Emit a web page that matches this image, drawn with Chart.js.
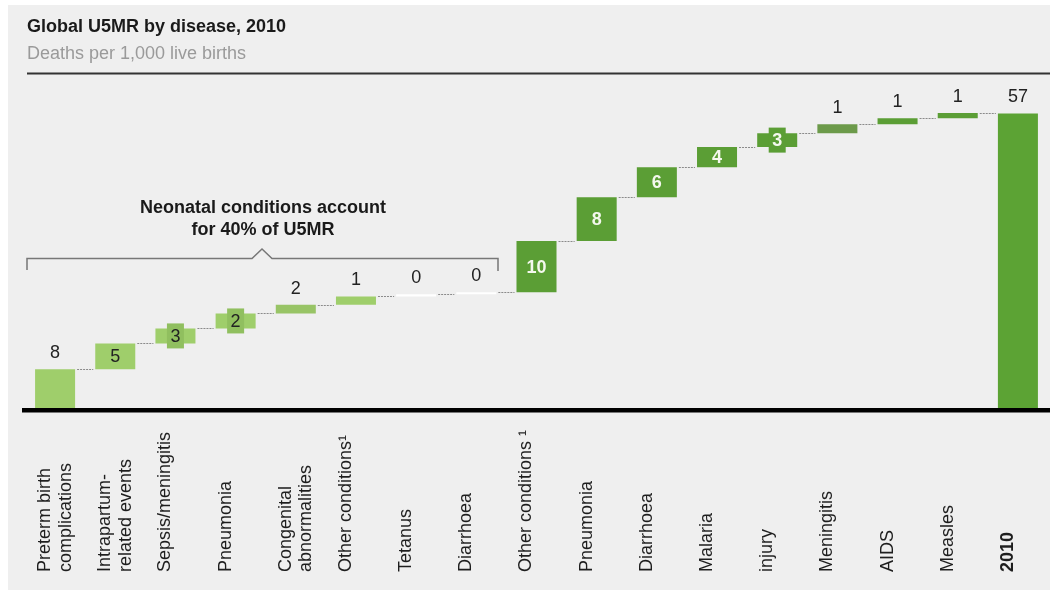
<!DOCTYPE html>
<html lang="en">
  <head>
    <meta charset="UTF-8" />
    <title>Global U5MR by disease, 2010</title>
  </head>
  <style>
    * {
      margin: 0;
      padding: 0;
    }
    body {
      width: 1050px;
      height: 590px;
      background: #ffffff;
      position: relative;
      overflow: hidden;
    }
    .chartCard {
      position: absolute;
      left: 8px;
      top: 5px;
      right: 0;
      bottom: 0;
      background: #efefef;
    }
    #myChart {
      position: absolute;
      left: 0;
      top: 0;
    }
  </style>
  <body>
    <div class="chartCard"></div>
    <canvas id="myChart" width="1050" height="590"></canvas>

    <script src="https://cdn.jsdelivr.net/npm/chart.js"></script>

    <script>
      // data block
      const categories = [
        ["Preterm birth", "complications"],
        ["Intrapartum-", "related events"],
        ["Sepsis/meningitis"],
        ["Pneumonia"],
        ["Congenital", "abnormalities"],
        ["Other conditions¹"],
        ["Tetanus"],
        ["Diarrhoea"],
        ["Other conditions ¹"],
        ["Pneumonia"],
        ["Diarrhoea"],
        ["Malaria"],
        ["injury"],
        ["Meningitis"],
        ["AIDS"],
        ["Measles"],
        ["2010"]
      ];
      const values = [7.5, 5.0, 2.9, 2.9, 1.7, 1.6, 0.4, 0.4, 9.9, 8.5, 5.8, 3.9, 2.7, 1.7, 1.2, 1.0];
      const totalValue = 57;
      const valueLabels = ["8", "5", "3", "2", "2", "1", "0", "0", "10", "8", "6", "4", "3", "1", "1", "1", "57"];

      // styles
      const light = "#9fce6b";
      const dark = "#5b9e35";
      const barColors = [
        light, light, light, light, "#98c466", light, "#ffffff", "#ffffff",
        dark, dark, dark, dark, dark, "#6c9a4a", dark, dark, "#5ca334"
      ];
      const placement = [
        "above", "in", "box", "box", "above", "above", "above", "above",
        "in", "in", "in", "in", "box", "above", "above", "above", "above"
      ];
      const FONT = '"Liberation Sans", Arial, sans-serif';

      // floating bars: each step starts where the previous one ended
      let cum = 0;
      const ranges = values.map((v) => {
        const r = [cum, cum + v];
        cum += v;
        return r;
      });
      ranges.push([0, totalValue]);

      const data = {
        labels: categories.map((c) => c.join(" ")),
        datasets: [
          {
            data: ranges,
            backgroundColor: barColors,
            borderWidth: 0,
            barPercentage: 0.665,
            categoryPercentage: 1
          }
        ]
      };

      const decorations = {
        id: "decorations",
        afterDatasetsDraw(chart) {
          const ctx = chart.ctx;
          const meta = chart.getDatasetMeta(0);
          const y = chart.scales.y;
          ctx.save();

          // title block
          ctx.fillStyle = "#1a1a1a";
          ctx.font = "bold 18px " + FONT;
          ctx.textAlign = "left";
          ctx.textBaseline = "alphabetic";
          ctx.fillText("Global U5MR by disease, 2010", 27, 32);
          ctx.fillStyle = "#9a9a9a";
          ctx.font = "18px " + FONT;
          ctx.fillText("Deaths per 1,000 live births", 27, 59);
          ctx.fillStyle = "#333";
          ctx.fillRect(27, 72.5, 1023, 2);

          // connectors
          ctx.strokeStyle = "#8a8a8a";
          ctx.lineWidth = 1;
          ctx.setLineDash([2, 1]);
          for (let i = 0; i < meta.data.length - 1; i++) {
            const a = meta.data[i];
            const b = meta.data[i + 1];
            const yy = Math.round(y.getPixelForValue(ranges[i][1])) + 0.5;
            ctx.beginPath();
            ctx.moveTo(a.x + a.width / 2 + 2, yy);
            ctx.lineTo(b.x - b.width / 2 - 2, yy);
            ctx.stroke();
          }
          ctx.setLineDash([]);

          // value labels
          ctx.textAlign = "center";
          ctx.textBaseline = "middle";
          meta.data.forEach((bar, i) => {
            const top = y.getPixelForValue(ranges[i][1]);
            const bottom = y.getPixelForValue(ranges[i][0]);
            const mid = (top + bottom) / 2;
            const darkBar = i >= 8;
            if (placement[i] === "above") {
              ctx.font = "18px " + FONT;
              ctx.fillStyle = "#222";
              ctx.fillText(valueLabels[i], bar.x, top - 16);
            } else {
              if (placement[i] === "box") {
                ctx.fillStyle = darkBar ? barColors[i] : "#90bf5f";
                ctx.fillRect(bar.x - 8.5, mid - 12.5, 17, 25);
              }
              ctx.font = (darkBar ? "bold " : "") + "18px " + FONT;
              ctx.fillStyle = darkBar ? "#f4f8ee" : "#222";
              ctx.fillText(valueLabels[i], bar.x, mid + 1);
            }
          });

          // baseline
          ctx.fillStyle = "#000";
          ctx.fillRect(22, 408, 1028, 4.5);

          // category labels, rotated and bottom-aligned
          ctx.fillStyle = "#1e1e1e";
          ctx.textAlign = "left";
          ctx.textBaseline = "middle";
          meta.data.forEach((bar, i) => {
            ctx.font = (i === meta.data.length - 1 ? "bold " : "") + "18px " + FONT;
            categories[i].forEach((line, j) => {
              ctx.save();
              ctx.translate(bar.x - 10 + j * 20.5, 572);
              ctx.rotate(-Math.PI / 2);
              ctx.fillText(line, 0, 0);
              ctx.restore();
            });
          });

          // neonatal bracket
          ctx.strokeStyle = "#777";
          ctx.lineWidth = 1.5;
          ctx.beginPath();
          ctx.moveTo(27, 270);
          ctx.lineTo(27, 258.5);
          ctx.lineTo(252, 258.5);
          ctx.lineTo(262, 249);
          ctx.lineTo(272, 258.5);
          ctx.lineTo(498, 258.5);
          ctx.lineTo(498, 271);
          ctx.stroke();

          ctx.fillStyle = "#1a1a1a";
          ctx.font = "bold 18px " + FONT;
          ctx.textAlign = "center";
          ctx.textBaseline = "alphabetic";
          ctx.fillText("Neonatal conditions account", 263, 213);
          ctx.fillText("for 40% of U5MR", 263, 235);

          ctx.restore();
        }
      };

      // config block
      const config = {
        type: "bar",
        data,
        options: {
          responsive: false,
          animation: false,
          layout: {
            padding: { left: 25, right: 2, top: 98, bottom: 182 }
          },
          plugins: {
            legend: { display: false },
            tooltip: { enabled: false }
          },
          scales: {
            x: { display: false },
            y: { display: false, min: 0, max: 60 }
          }
        },
        plugins: [decorations]
      };

      // init render block
      const ctx = document.getElementById("myChart");
      const myChart = new Chart(ctx, config);
    </script>
  </body>
</html>
